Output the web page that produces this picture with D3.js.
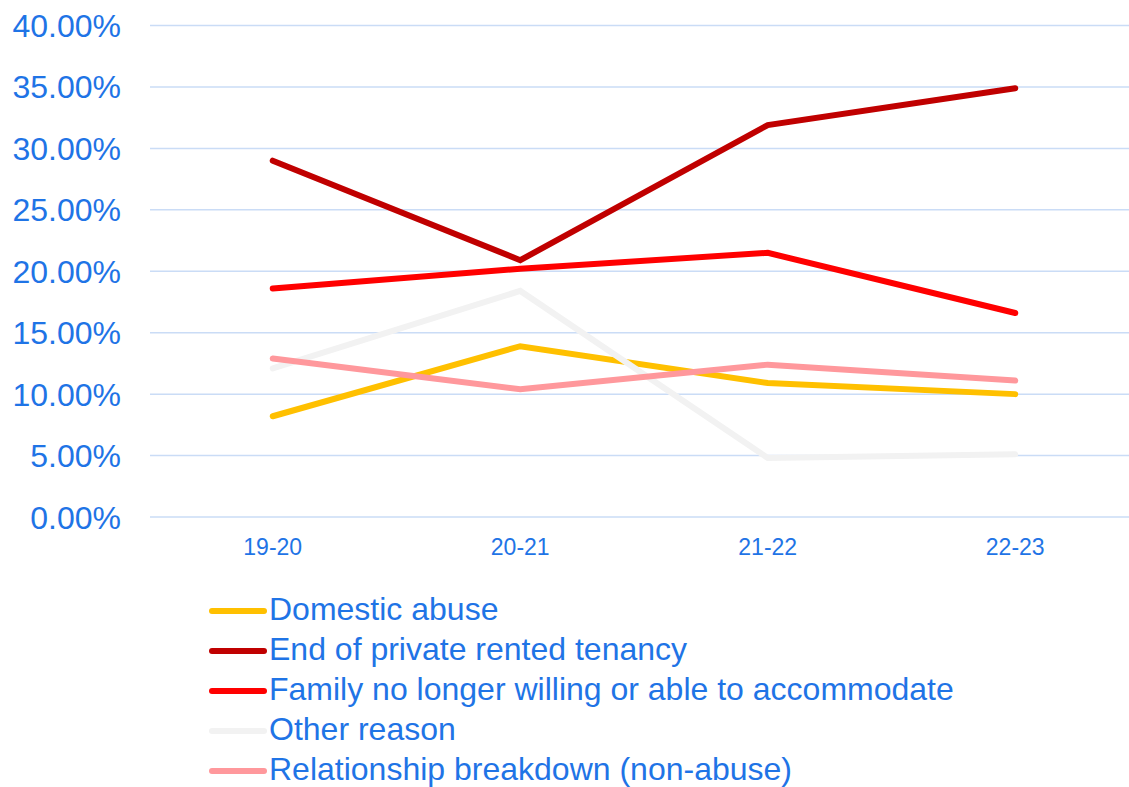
<!DOCTYPE html>
<html>
<head>
<meta charset="utf-8">
<script src="https://cdn.jsdelivr.net/npm/d3@7"></script>
<style>
  body { margin: 0; background: #fff; }
  text { font-family: "Liberation Sans", Arial, sans-serif; fill: #1f74e6; }
</style>
</head>
<body>
<div id="canvas"></div>
<script>
"use strict"

// data
let years = ["19-20", "20-21", "21-22", "22-23"];
let seriesNames = [
    "Domestic abuse",
    "End of private rented tenancy",
    "Family no longer willing or able to accommodate",
    "Other reason",
    "Relationship breakdown (non-abuse)"
];
let domesticAbuse = [0.082, 0.139, 0.109, 0.100];
let endOfTenancy = [0.290, 0.209, 0.319, 0.349];
let familyNoLonger = [0.186, 0.202, 0.215, 0.166];
let otherReason = [0.121, 0.184, 0.048, 0.051];
let relationship = [0.129, 0.104, 0.124, 0.111];
let yTicks = [0, 0.05, 0.10, 0.15, 0.20, 0.25, 0.30, 0.35, 0.40];
let colors = ["#ffc000", "#c00000", "#ff0000", "#f2f2f2", "#ff989c"];

let allSeries = [domesticAbuse, endOfTenancy, familyNoLonger, otherReason, relationship];

/* drawing config */
let svgWidth = 1129;
let svgHeight = 787;

let svg = d3.select("#canvas")
    .append("svg")
    .attr("width", svgWidth)
    .attr("height", svgHeight);

let xScale = d3.scalePoint()
    .domain(years)
    .range([149, 1139])
    .padding(0.5);

let yScale = d3.scaleLinear()
    .domain([0, 0.40])
    .range([517, 25.5]);

// gridlines
svg.selectAll(".grid")
    .data(yTicks)
    .join("line")
    .attr("class", "grid")
    .attr("x1", 150)
    .attr("x2", svgWidth)
    .attr("y1", d => yScale(d))
    .attr("y2", d => yScale(d))
    .attr("stroke", "#cadcf6")
    .attr("stroke-width", 1.5);

// y tick labels
svg.selectAll(".yTick")
    .data(yTicks)
    .join("text")
    .attr("class", "yTick")
    .attr("x", 121)
    .attr("y", d => yScale(d))
    .attr("dy", "0.36em")
    .attr("text-anchor", "end")
    .style("font-size", "32px")
    .text(d => d3.format(".2%")(d));

// x tick labels
svg.selectAll(".xTick")
    .data(years)
    .join("text")
    .attr("class", "xTick")
    .attr("x", d => xScale(d))
    .attr("y", 555)
    .attr("text-anchor", "middle")
    .style("font-size", "23px")
    .text(d => d);

// lines
let line = d3.line()
    .x((d, i) => xScale(years[i]))
    .y(d => yScale(d));

svg.selectAll(".series")
    .data(allSeries)
    .join("path")
    .attr("class", "series")
    .attr("d", d => line(d))
    .attr("fill", "none")
    .attr("stroke", (d, i) => colors[i])
    .attr("stroke-width", 6)
    .attr("stroke-linecap", "round")
    .attr("stroke-linejoin", "miter");

// legend
let legendX = 212;
let legendY = 611;
let legendStep = 40;

svg.selectAll(".legendLine")
    .data(seriesNames)
    .join("line")
    .attr("class", "legendLine")
    .attr("x1", legendX)
    .attr("x2", legendX + 52)
    .attr("y1", (d, i) => legendY + i * legendStep)
    .attr("y2", (d, i) => legendY + i * legendStep)
    .attr("stroke", (d, i) => colors[i])
    .attr("stroke-width", 6)
    .attr("stroke-linecap", "round");

svg.selectAll(".legendLabel")
    .data(seriesNames)
    .join("text")
    .attr("class", "legendLabel")
    .attr("x", 269)
    .attr("y", (d, i) => legendY + i * legendStep)
    .attr("dy", "0.28em")
    .style("font-size", "32px")
    .text(d => d);
</script>
</body>
</html>
